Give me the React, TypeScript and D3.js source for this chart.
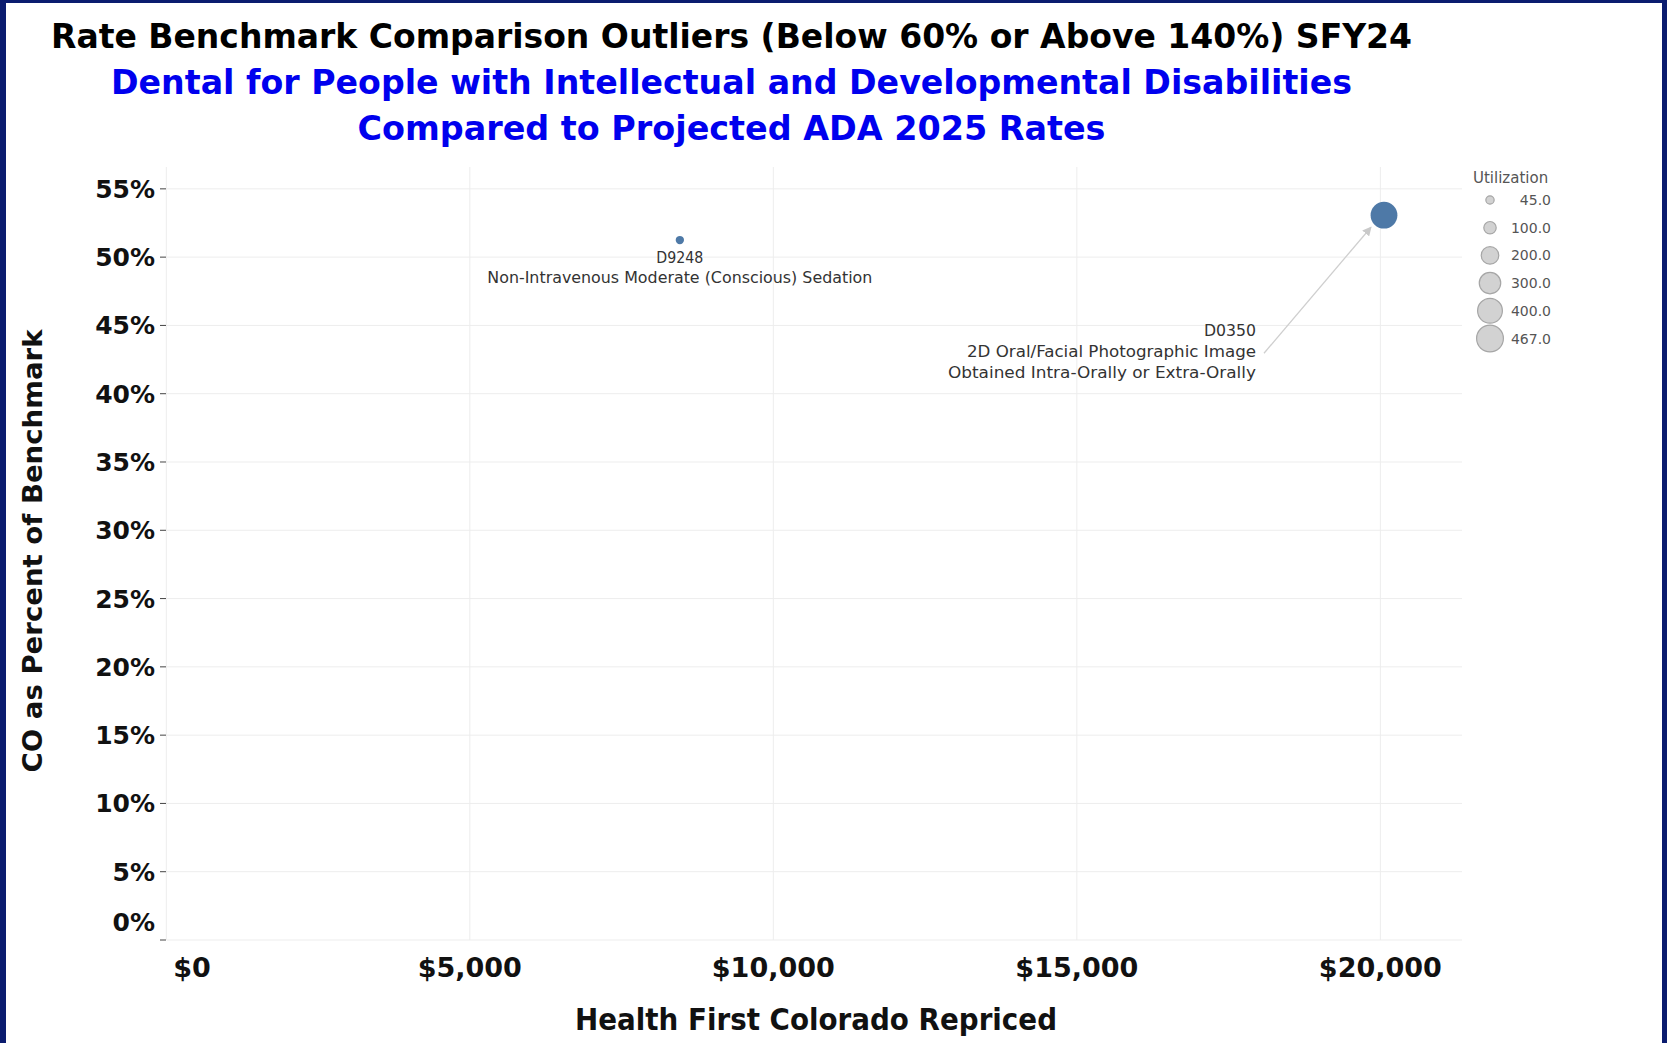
import React from "react";
import * as d3 from "d3";

// ---------- data ----------
const codes = ["D9248", "D0350"];
const descriptions = [
  ["Non-Intravenous Moderate (Conscious) Sedation"],
  ["2D Oral/Facial Photographic Image", "Obtained Intra-Orally or Extra-Orally"],
];
const repriced = [8460, 20060];
const pctOfBenchmark = [0.5125, 0.5307];
const utilization = [45, 467];
const legendValues = [45, 100, 200, 300, 400, 467];
const xTicks = [0, 5000, 10000, 15000, 20000];
const yTicks = [0, 0.05, 0.1, 0.15, 0.2, 0.25, 0.3, 0.35, 0.4, 0.45, 0.5, 0.55];

const titleLines = [
  "Rate Benchmark Comparison Outliers (Below 60% or Above 140%) SFY24",
  "Dental for People with Intellectual and Developmental Disabilities",
  "Compared to Projected ADA 2025 Rates",
];
const xAxisTitle = "Health First Colorado Repriced";
const yAxisTitle = "CO as Percent of Benchmark";
const legendTitle = "Utilization";

// ---------- layout ----------
const W = 1667;
const H = 1043;
const plot = { left: 167, right: 1462, top: 167, bottom: 940 };
const FONT = "'DejaVu Sans', Verdana, sans-serif";
const NAVY = "#0b1c6f";
const POINT = "#4e79a7";

const x = d3.scaleLinear().domain([0, 21345]).range([166.3, plot.right]);
const y = d3.scaleLinear().domain([0, 0.566]).range([plot.bottom, plot.top]);
const r = d3.scaleSqrt().domain([0, 467]).range([0, 13.4]);

const fmtMoney = d3.format("$,.0f");
const fmtPct = d3.format(".0%");
const fmtLegend = d3.format(".1f");

// annotation placement relative to the point (layout only)
const annot = [
  { anchor: "middle", dx: 0, dy: 23, lineH: 20, arrow: false, widths: [47, 385] },
  { anchor: "end", dx: -128, dy: 121, lineH: 21, arrow: true, widths: [52, 289, 308] },
];

export default function App() {
  const titleWidths = [1361, 1241, 748];
  const titleBaselines = [48, 94, 139.5];
  return (
    <div style={{ position: "absolute", left: 0, top: 0, width: W, height: H }}>
      <svg width={W} height={H} style={{ display: "block" }} fontFamily={FONT}>
        <defs>
          <marker id="arrowhead" viewBox="0 0 10 10" refX="9" refY="5" markerWidth="7" markerHeight="7" orient="auto">
            <path d="M0,0 L10,5 L0,10 z" fill="#c9c9c9" />
          </marker>
        </defs>
        {/* frame */}
        <rect x={0} y={0} width={W} height={H} fill={NAVY} />
        <rect x={6} y={3} width={W - 6 - 5} height={H - 3} fill="#ffffff" />

        {/* titles */}
        {titleLines.map((t, i) => (
          <text
            key={t}
            x={731.5}
            y={titleBaselines[i]}
            textAnchor="middle"
            fontWeight="bold"
            fontSize={34}
            fill={i === 0 ? "#000000" : "#0000ee"}
            textLength={titleWidths[i]}
            lengthAdjust="spacingAndGlyphs"
          >
            {t}
          </text>
        ))}

        {/* gridlines */}
        {yTicks.map((t) => (
          <line key={"gy" + t} x1={plot.left} x2={plot.right} y1={y(t)} y2={y(t)} stroke="#ededed" strokeWidth={1} />
        ))}
        {xTicks.map((t) => (
          <line key={"gx" + t} x1={x(t)} x2={x(t)} y1={plot.top} y2={plot.bottom} stroke="#ededed" strokeWidth={1} />
        ))}

        {/* y axis ticks & labels */}
        {yTicks.map((t) => (
          <g key={"yt" + t}>
            <line x1={160} x2={166} y1={y(t)} y2={y(t)} stroke="#444" strokeWidth={1} />
            <text
              x={155}
              y={Math.min(y(t), y(0) - 18)}
              dy="0.36em"
              textAnchor="end"
              fontWeight="bold"
              fontSize={25}
              fill="#111"
            >
              {fmtPct(t)}
            </text>
          </g>
        ))}

        {/* x axis labels */}
        {xTicks.map((t, i) => (
          <text
            key={"xt" + t}
            x={i === 0 ? x(t) + 7 : x(t)}
            y={977}
            textAnchor={i === 0 ? "start" : "middle"}
            fontWeight="bold"
            fontSize={27}
            fill="#111"
          >
            {fmtMoney(t)}
          </text>
        ))}

        {/* axis titles */}
        <text x={816} y={1030} textAnchor="middle" fontWeight="bold" fontSize={30} fill="#111" textLength={482} lengthAdjust="spacingAndGlyphs">
          {xAxisTitle}
        </text>
        <text
          transform={`translate(42,551) rotate(-90)`}
          textAnchor="middle"
          fontWeight="bold"
          fontSize={26}
          fill="#111"
          textLength={443}
          lengthAdjust="spacingAndGlyphs"
        >
          {yAxisTitle}
        </text>

        {/* annotations */}
        {codes.map((c, i) => {
          const px = x(repriced[i]);
          const py = y(pctOfBenchmark[i]);
          const a = annot[i];
          const lines = [c, ...descriptions[i]];
          const tx = px + a.dx;
          const ty = py + a.dy;
          return (
            <g key={"an" + c}>
              {a.arrow && (
                <line
                  x1={tx + 8}
                  y1={ty + a.lineH - 4}
                  x2={px - 13}
                  y2={py + 12}
                  stroke="#cfcfcf"
                  strokeWidth={1.3}
                  markerEnd="url(#arrowhead)"
                />
              )}
              {lines.map((l, j) => (
                <text
                  key={l}
                  x={tx}
                  y={ty + j * a.lineH}
                  textAnchor={a.anchor}
                  fontSize={16}
                  fill="#333"
                  textLength={a.widths[j]}
                  lengthAdjust="spacingAndGlyphs"
                >
                  {l}
                </text>
              ))}
            </g>
          );
        })}

        {/* points */}
        {codes.map((c, i) => (
          <circle key={"pt" + c} cx={x(repriced[i])} cy={y(pctOfBenchmark[i])} r={r(utilization[i])} fill={POINT} />
        ))}

        {/* size legend */}
        <text x={1473} y={183} fontSize={15} fill="#555">
          {legendTitle}
        </text>
        {legendValues.map((v, i) => (
          <g key={"lg" + v}>
            <circle cx={1490} cy={200 + i * 27.7} r={r(v)} fill="#d2d2d2" stroke="#a6a6a6" strokeWidth={1.2} />
            <text x={1551} y={200 + i * 27.7} dy="0.36em" textAnchor="end" fontSize={14} fill="#555">
              {fmtLegend(v)}
            </text>
          </g>
        ))}
      </svg>
    </div>
  );
}
